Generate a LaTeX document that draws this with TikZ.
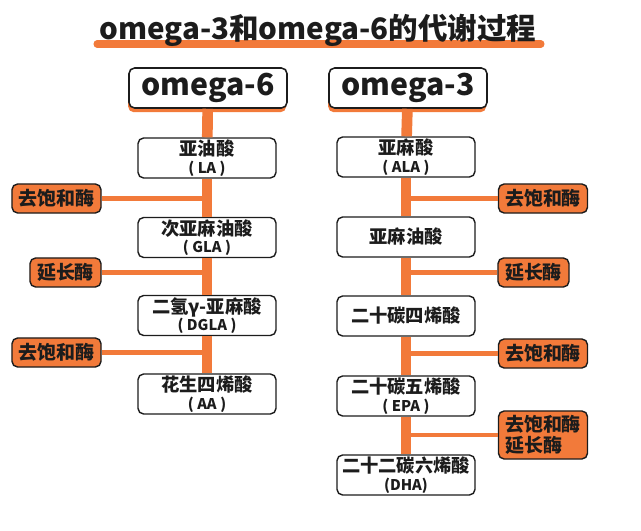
\documentclass[tikz,border=0pt]{standalone}
\usepackage{fontspec}
\setmainfont{Noto Sans CJK SC}
\usetikzlibrary{shadows}
\definecolor{fishorange}{RGB}{242,122,58}
\definecolor{inkgrey}{RGB}{28,28,28}
\newcommand{\abbr}[1]{{\fontsize{10.5}{11}\selectfont(\hspace{2.5pt}#1\hspace{2.5pt})}}

\begin{document}
\begin{tikzpicture}[x=0.025cm, y=-0.025cm, font=\bfseries, text=inkgrey,
    header/.style={draw=inkgrey, line width=1.1pt, fill=white, rounded corners=4pt,
      minimum width=3.95cm, minimum height=1cm, font=\fontsize{21.5}{24}\selectfont\bfseries,
      drop shadow={shadow xshift=-0.6pt, shadow yshift=-3pt, fill=fishorange, opacity=1}},
    acid/.style={draw=inkgrey, line width=1pt, fill=white, rounded corners=4pt,
      minimum width=3.45cm, minimum height=1cm, align=center, inner sep=1pt,
      font=\fontsize{13}{12.5}\selectfont\bfseries},
    enzyme/.style={draw=inkgrey, line width=1pt, fill=fishorange, rounded corners=4pt,
      minimum width=2.225cm, minimum height=0.725cm, align=left, inner sep=2pt,
      font=\fontsize{13.5}{15}\selectfont\bfseries},
    short/.style={minimum width=1.775cm},
    trunk/.style={fishorange, line width=7.6pt},
    branch/.style={fishorange, line width=3.4pt}]
    \useasboundingbox (0,0) rectangle (641,531);
    % Title with underline
    \draw[fishorange, line width=5pt, line cap=round] (97,44) -- (541,44);
    \node[font=\fontsize{21}{23}\selectfont\bfseries] (title) at (318,30)
      {omega-3和omega-6的代谢过程};
    % omega-6 column
    \node[header] (o6) at (208,88) {omega-6};
    \node[acid] (la)   at (207,158)   {亚油酸\\\abbr{LA}};
    \node[acid] (gla)  at (207,237.5) {次亚麻油酸\\\abbr{GLA}};
    \node[acid] (dgla) at (207,315.5) {二氢γ-亚麻酸\\\abbr{DGLA}};
    \node[acid] (aa)   at (207,394)   {花生四烯酸\\\abbr{AA}};
    \node[enzyme] (l1) at (56.5,198.5) {去饱和酶};
    \node[enzyme, short] (l2) at (65.5,272.5) {延长酶};
    \node[enzyme] (l3) at (56.5,352.5) {去饱和酶};
    % omega-3 column
    \node[header] (o3) at (408,88) {omega-3};
    \node[acid] (ala) at (406,157) {亚麻酸\\\abbr{ALA}};
    \node[acid] (lna) at (406,237) {亚麻油酸};
    \node[acid] (eta) at (406,316) {二十碳四烯酸};
    \node[acid] (epa) at (406,396) {二十碳五烯酸\\\abbr{EPA}};
    \node[acid] (dha) at (406,475) {二十二碳六烯酸\\{\fontsize{10.5}{11}\selectfont (DHA)}};
    \node[enzyme] (r1) at (543,198.5) {去饱和酶};
    \node[enzyme, short] (r2) at (533.5,272.5) {延长酶};
    \node[enzyme] (r3) at (543,353.5) {去饱和酶};
    \node[enzyme, minimum height=1.2cm] (r4) at (543,435) {去饱和酶\\延长酶};
    % Trunks
    \foreach \a/\b in {o6/la, la/gla, gla/dgla, dgla/aa, o3/ala, ala/lna, lna/eta, eta/epa, epa/dha}
      \draw[trunk] (\a) -- (\b);
    % Enzyme branches
    \foreach \e/\t in {l1/la, l2/la, l3/la}
      \draw[branch] (\e.east) -- (\e.east -| \t.center);
    \foreach \e/\t in {r1/ala, r2/ala, r3/ala, r4/ala}
      \draw[branch] (\e.west) -- (\e.west -| \t.center);
\end{tikzpicture}
\end{document}
